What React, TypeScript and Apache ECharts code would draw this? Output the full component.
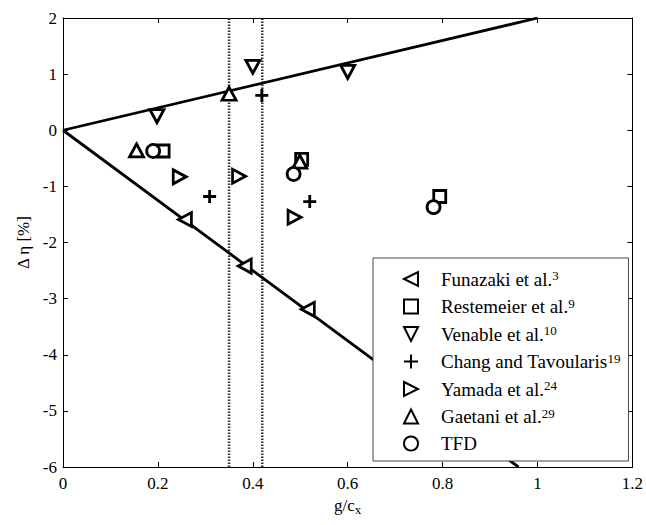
import React, { useEffect, useRef } from "react";
import * as echarts from "echarts";

const seriesNames = [
  "Funazaki et al.",
  "Restemeier et al.",
  "Venable et al.",
  "Chang and Tavoularis",
  "Yamada et al.",
  "Gaetani et al.",
  "TFD",
];
const refNumbers = ["3", "9", "10", "19", "24", "29", ""];

const funazaki = [[0.257, -1.59], [0.383, -2.42], [0.516, -3.19]];
const restemeier = [[0.211, -0.37], [0.503, -0.52], [0.794, -1.18]];
const venable = [[0.198, 0.25], [0.4, 1.13], [0.6, 1.04]];
const chang = [[0.309, -1.18], [0.419, 0.62], [0.52, -1.27]];
const yamada = [[0.246, -0.83], [0.371, -0.82], [0.488, -1.55]];
const gaetani = [[0.155, -0.36], [0.35, 0.65], [0.499, -0.56]];
const tfd = [[0.19, -0.37], [0.486, -0.78], [0.781, -1.37]];

const upperBound = [[0, 0], [1, 2]];
const lowerBound = [[0, 0], [0.96, -6]];
const dottedX = [0.35, 0.42];

const xTicks = [0, 0.2, 0.4, 0.6, 0.8, 1, 1.2];
const yTicks = [-6, -5, -4, -3, -2, -1, 0, 1, 2];

const symbols = [
  "path://M0,5 L10,0 L10,10 Z",
  "rect",
  "path://M0,0 L10,0 L5,10 Z",
  "path://M5,0 L5,10 M0,5 L10,5",
  "path://M0,0 L10,5 L0,10 Z",
  "path://M5,0 L10,10 L0,10 Z",
  "circle",
];
const sizes = [[13, 14], 12, [14, 13], 13, [13, 14], [14, 13], 13];
const datasets = [funazaki, restemeier, venable, chang, yamada, gaetani, tfd];

const FONT = "'Liberation Serif', 'Times New Roman', serif";

export default function App() {
  const ref = useRef<HTMLDivElement>(null);
  useEffect(() => {
    document.body.style.margin = "0";
    if (!ref.current) return;
    const chart = echarts.init(ref.current, undefined, { renderer: "svg" });

    const markerSeries = datasets.map((d, i) => ({
      name: seriesNames[i],
      type: "scatter",
      data: d,
      symbol: symbols[i],
      symbolSize: sizes[i],
      itemStyle: {
        color: "#fff",
        borderColor: "#000",
        borderWidth: 2.8,
        opacity: 1,
      },
      z: 5,
    }));

    const lineSeries = [upperBound, lowerBound].map((d) => ({
      type: "line",
      data: d,
      symbol: "none",
      lineStyle: { color: "#000", width: 2.8 },
      silent: true,
      z: 3,
    }));

    const dotted = dottedX.map((x) => ({
      type: "line",
      data: [[x, -6], [x, 2]],
      symbol: "none",
      lineStyle: { color: "#333", width: 2.5, type: [1.5, 1.5] },
      silent: true,
      z: 2,
    }));

    const axisCommon = {
      type: "value",
      axisTick: { show: true, inside: true, length: 5, lineStyle: { color: "#000" } },
      splitLine: { show: false },
      axisLine: { show: true, onZero: false, lineStyle: { color: "#000", width: 1 } },
    };

    chart.setOption({
      animation: false,
      backgroundColor: "#fff",
      textStyle: { fontFamily: FONT },
      grid: { left: 63, right: 12, top: 18, bottom: 58, containLabel: false },
      xAxis: [
        {
          ...axisCommon,
          position: "bottom",
          min: xTicks[0],
          max: xTicks[xTicks.length - 1],
          interval: 0.2,
          axisLabel: {
            color: "#000",
            fontFamily: FONT,
            fontSize: 17,
            margin: 8,
            formatter: (v: number) => String(Math.round(v * 10) / 10),
          },
          name: "{a|g/c}{b|x}",
          nameLocation: "middle",
          nameGap: 18,
          nameTextStyle: {
            verticalAlign: "top",
            fontFamily: FONT,
            rich: {
              a: { fontFamily: FONT, fontSize: 17, color: "#000", lineHeight: 22 },
              b: { fontFamily: FONT, fontSize: 13, color: "#000", lineHeight: 12, verticalAlign: "bottom" },
            },
          },
        },
        {
          ...axisCommon,
          position: "top",
          min: xTicks[0],
          max: xTicks[xTicks.length - 1],
          interval: 0.2,
          axisLabel: { show: false },
        },
      ],
      yAxis: [
        {
          ...axisCommon,
          position: "left",
          min: yTicks[0],
          max: yTicks[yTicks.length - 1],
          interval: 1,
          axisLabel: { color: "#000", fontFamily: FONT, fontSize: 17, margin: 6 },
          name: "Δ η [%]",
          nameLocation: "middle",
          nameGap: 31,
          nameTextStyle: { color: "#000", fontFamily: FONT, fontSize: 17 },
        },
        {
          ...axisCommon,
          position: "right",
          min: yTicks[0],
          max: yTicks[yTicks.length - 1],
          interval: 1,
          axisLabel: { show: false },
        },
      ],
      legend: {
        data: seriesNames,
        orient: "vertical",
        left: 373,
        top: 258,
        padding: [11, 8, 8, 30],
        itemWidth: 14,
        itemHeight: 14,
        itemGap: 8,
        backgroundColor: "#fff",
        borderColor: "#444",
        borderWidth: 1,
        borderRadius: 0,
        formatter: (name: string) => {
          const i = seriesNames.indexOf(name);
          const r = refNumbers[i];
          return r ? `{t|${name}}{s|${r}}` : `{t|${name}}`;
        },
        textStyle: {
          fontFamily: FONT,
          padding: [0, 0, 0, 18],
          rich: {
            t: { fontFamily: FONT, fontSize: 19, color: "#000", lineHeight: 20 },
            s: { fontFamily: FONT, fontSize: 13, color: "#000", lineHeight: 12, verticalAlign: "top" },
          },
        },
      },
      series: [...dotted, ...lineSeries, ...markerSeries],
    });
    return () => chart.dispose();
  }, []);
  return <div ref={ref} style={{ width: 646, height: 525 }} />;
}
